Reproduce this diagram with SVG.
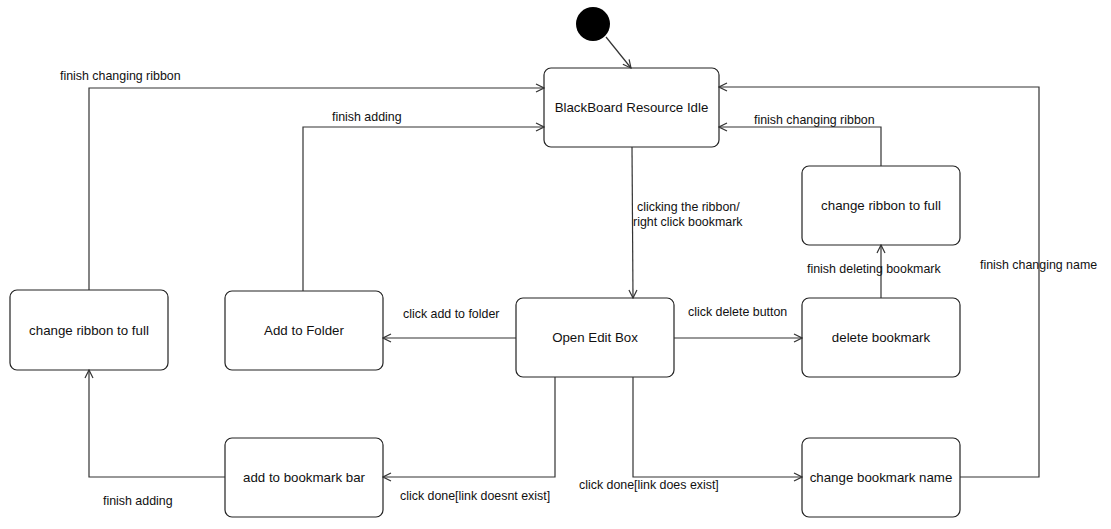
<svg xmlns="http://www.w3.org/2000/svg" width="1111" height="529" viewBox="0 0 1111 529">
<style>
.n rect{fill:#fff;stroke:#222;stroke-width:1.2}
.n text{font-family:"Liberation Sans",Arial,sans-serif;font-size:13.3px;fill:#111;text-anchor:middle}
.c path{fill:none;stroke:#333;stroke-width:1.2;marker-end:url(#a)}
.l{font-family:"Liberation Sans",Arial,sans-serif;font-size:12.4px;fill:#111}
</style>
<defs>
<marker id="a" viewBox="0 0 10 10" refX="9" refY="5" markerWidth="10" markerHeight="10" markerUnits="userSpaceOnUse" orient="auto">
<path d="M1,1 L9,5 L1,9" fill="none" stroke="#333" stroke-width="1.2"/>
</marker>
</defs>
<g id="start"><circle cx="593" cy="24" r="17" fill="#000"/></g>
<g class="n" id="idle"><rect x="544" y="68" width="175" height="79" rx="7"/><text x="631.5" y="112">BlackBoard Resource Idle</text></g>
<g class="n" id="edit"><rect x="516" y="298" width="158" height="79" rx="7"/><text x="595" y="342">Open Edit Box</text></g>
<g class="n" id="folder"><rect x="225" y="291" width="158" height="79" rx="7"/><text x="304" y="335">Add to Folder</text></g>
<g class="n" id="ribbonL"><rect x="10" y="290" width="158" height="80" rx="7"/><text x="89" y="335">change ribbon to full</text></g>
<g class="n" id="bar"><rect x="225" y="438" width="158" height="79" rx="7"/><text x="304" y="482">add to bookmark bar</text></g>
<g class="n" id="delete"><rect x="802" y="298" width="158" height="79" rx="7"/><text x="881" y="342">delete bookmark</text></g>
<g class="n" id="ribbonR"><rect x="802" y="166" width="158" height="79" rx="7"/><text x="881" y="210">change ribbon to full</text></g>
<g class="n" id="rename"><rect x="802" y="438" width="158" height="79" rx="7"/><text x="881" y="482">change bookmark name</text></g>
<g class="c" id="connectors">
<path d="M606,37 L631,68"/>
<path d="M89,290 L89,88 L544,88"/>
<path d="M303,291 L303,127 L544,127"/>
<path d="M632,147 L633,298"/>
<path d="M516,338 L383,338"/>
<path d="M674,338 L802,338"/>
<path d="M881,298 L881,245"/>
<path d="M881,166 L881,127 L719,127"/>
<path d="M960,477 L1039,477 L1039,87 L719,87"/>
<path d="M555,377 L555,477 L383,477"/>
<path d="M633,377 L633,477 L802,477"/>
<path d="M225,477 L89,477 L89,370"/>
</g>
<g id="labels">
<text class="l" x="60" y="80">finish changing ribbon</text>
<text class="l" x="332" y="121">finish adding</text>
<text class="l" x="637" y="211">clicking the ribbon/</text>
<text class="l" x="633" y="226">right click bookmark</text>
<text class="l" x="403" y="318">click add to folder</text>
<text class="l" x="688" y="316">click delete button</text>
<text class="l" x="807" y="273">finish deleting bookmark</text>
<text class="l" x="754" y="124">finish changing ribbon</text>
<text class="l" x="980" y="269">finish changing name</text>
<text class="l" x="400" y="500">click done[link doesnt exist]</text>
<text class="l" x="579" y="489">click done[link does exist]</text>
<text class="l" x="103" y="505">finish adding</text>
</g>
</svg>
